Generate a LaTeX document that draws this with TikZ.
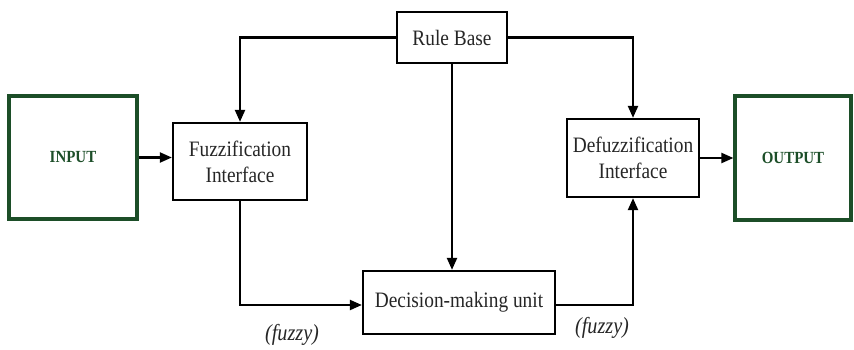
\documentclass[tikz,border=0pt]{standalone}
\usepackage{fontspec}
\setmainfont{Liberation Serif}[FakeStretch=0.88]
\usetikzlibrary{arrows.meta}
\definecolor{boxgreen}{RGB}{28,78,40}
\tikzset{
  block/.style={draw,line width=2.3pt,align=center,inner sep=2pt,
    text=black!85,font=\fontsize{22}{26}\selectfont},
  iobox/.style={draw=boxgreen,line width=3.2pt,text=boxgreen,
    font=\fontsize{17}{20}\selectfont\bfseries},
  flow/.style={-{Triangle[length=12pt,width=10pt]},line width=2.2pt},
  note/.style={text=black!85,font=\fontsize{23}{27}\selectfont\itshape}
}
\begin{document}
\begin{tikzpicture}[x=1pt,y=-1pt]
			\useasboundingbox (0,0) rectangle (854,350);
			\node[iobox,minimum width=128pt,minimum height=123pt] (input) at (73,157.5) {INPUT};
			\node[block,minimum width=134pt,minimum height=77pt] (fuzz) at (240,161.5) {Fuzzification\\Interface};
			\node[block,minimum width=110pt,minimum height=51pt] (rule) at (452,37.5) {Rule Base};
			\node[block,minimum width=132pt,minimum height=78pt] (defuzz) at (633,158) {Defuzzification\\Interface};
			\node[iobox,minimum width=116pt,minimum height=124pt] (output) at (793,158) {OUTPUT};
			\node[block,minimum width=192pt,minimum height=63pt] (dmu) at (459,302.5) {Decision-making unit};
			\node[note] (fuzzyl) at (292,335) {(fuzzy)};
			\node[note] (fuzzyr) at (602,328) {(fuzzy)};

			\draw [flow] (rule.west) -| (fuzz.north);
			\draw [flow] (rule.east) -| (defuzz.north);
			\draw [flow] (rule.south) -- (rule.south |- dmu.north);
			\draw [flow] (input.east) -- (input.east -| fuzz.west);
			\draw [flow] (fuzz.south) |- ([yshift=-2.5pt]dmu.west);
			\draw [flow] ([yshift=-2.5pt]dmu.east) -| (defuzz.south);
			\draw [flow] (defuzz.east) -- (defuzz.east -| output.west);
			\end{tikzpicture}
\end{document}
